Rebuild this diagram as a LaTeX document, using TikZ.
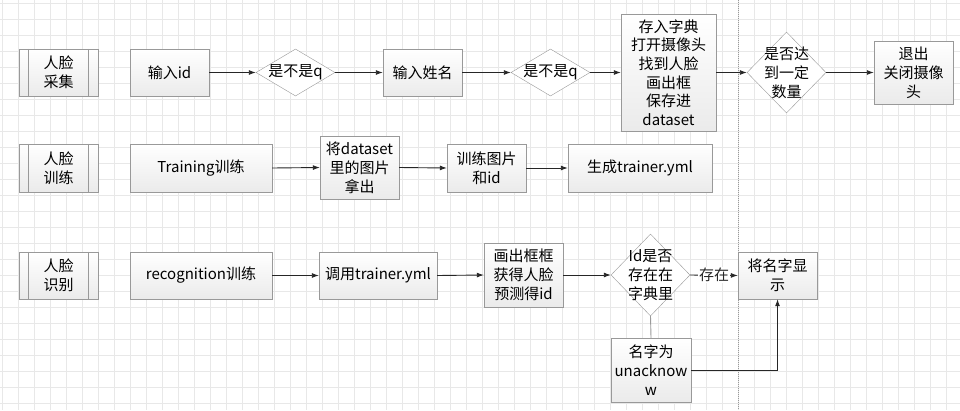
\documentclass[tikz,border=0pt]{standalone}
\usepackage{fontspec}
\setmainfont{Noto Sans CJK SC}
\usetikzlibrary{shapes.geometric,arrows.meta,shadows}
\begin{document}
\begin{tikzpicture}[x=1pt,y=-1pt,
  every node/.style={font=\fontsize{15}{19}\selectfont},
  sz/.style 2 args={minimum width=#1pt, minimum height=#2pt},
  box/.style={draw=gray!80, top color=white, bottom color=gray!16, inner sep=0pt, align=center,
    drop shadow={opacity=0.18, shadow xshift=1pt, shadow yshift=-1pt}},
  dia/.style={draw=gray!80, fill=white, shape=diamond, inner sep=0pt},
  lbl/.style={align=center, inner sep=0pt},
  arr/.style={-{Latex[length=7pt,width=5pt]}, black!85, line width=0.9pt},
  gridline/.style={gray!18, line width=0.6pt},
  ]
\useasboundingbox (0,0) rectangle (960,410);
\fill[white] (0,0) rectangle (960,410);
\foreach \x in {2,18,...,962} \draw[gridline] (\x,0) -- (\x,410);
\foreach \y in {3,19,...,410} \draw[gridline] (0,\y) -- (960,\y);
\draw[gray!80, line width=0.8pt, dash pattern=on 1pt off 1pt] (738,0) -- (738,410);

% Row 1
\node[box, sz={79}{47}] (p1) at (58.5,72.5) {人脸\\采集};
\node[box, sz={79}{47}] (b1) at (169.5,72.5) {输入id};
\node[dia, sz={79}{47}] (d1) at (295.5,72.5) {};
\node[lbl] (t1) at (d1) {是不是q};
\node[box, sz={79}{47}] (b2) at (422.5,72.5) {输入姓名};
\node[dia, sz={79}{47}] (d2) at (550.5,72.5) {};
\node[lbl] (t2) at (d2) {是不是q};
\node[box, sz={95}{117}, font=\fontsize{15}{18.6}\selectfont] (b3) at (668.5,72.5) {存入字典\\打开摄像头\\找到人脸\\画出框\\保存进\\dataset};
\node[dia, sz={79}{81}] (d3) at (786.5,72.5) {};
\node[lbl] (t3) at (d3) {是否达\\到一定\\数量};
\node[box, sz={79}{63}] (b4) at (913.5,72.5) {退出\\关闭摄像\\头};

% Row 2
\node[box, sz={79}{48}] (p2) at (58.5,168) {人脸\\训练};
\node[box, sz={142}{48}] (c1) at (201,168) {Training训练};
\node[box, sz={79}{63}] (c2) at (359.5,167.5) {将dataset\\里的图片\\拿出};
\node[box, sz={79}{48}] (c3) at (486.5,168) {训练图片\\和id};
\node[box, sz={144}{48}] (c4) at (640,168) {生成trainer.yml};

% Row 3
\node[box, sz={79}{47}] (p3) at (58.5,275.5) {人脸\\识别};
\node[box, sz={142}{47}] (r1) at (201,275.5) {recognition训练};
\node[box, sz={118}{47}] (r2) at (378,275.5) {调用trainer.yml};
\node[box, sz={79}{64}] (r3) at (523.5,275) {画出框框\\获得人脸\\预测得id};
\node[dia, sz={79}{82}] (rd) at (650.5,275) {};
\node[lbl] (rt) at (rd) {Id是否\\存在在\\字典里};
\node[box, sz={79}{47}] (r4) at (777.5,275.5) {将名字显\\示};
\node[box, sz={80}{64}] (r5) at (651,370) {名字为\\unacknow\\w};

% process inner lines
\foreach \p in {p1,p2,p3} {
  \draw[gray!80] ([xshift=9pt]\p.north west) -- ([xshift=9pt]\p.south west);
  \draw[gray!80] ([xshift=-10pt]\p.north east) -- ([xshift=-10pt]\p.south east);
}

% connectors
\draw[arr] (b1.east) -- (d1.west);
\draw[arr] (d1.east) -- (b2.west);
\draw[arr] (b2.east) -- (d2.west);
\draw[arr] (d2.east) -- (b3.west);
\draw[arr] (b3.east) -- (d3.west);
\draw[arr] (d3.east) -- (b4.west);

\draw[arr] (c1.east) -- (c2.west);
\draw[arr] (c2.east) -- (c3.west);
\draw[arr] (c3.east) -- (c4.west);

\draw[arr] (r1.east) -- (r2.west);
\draw[arr] (r2.east) -- (r3.west);
\draw[arr] (r3.east) -- (rd.west);
\draw[arr] (rd.east) -- node[fill=white, inner sep=1pt] (lab) {存在} (r4.west);
\draw[gray!80, line width=0.9pt] (rd.south) -- (r5.north);
\draw[arr] (r5.east) -| (r4.south);
\end{tikzpicture}
\end{document}
